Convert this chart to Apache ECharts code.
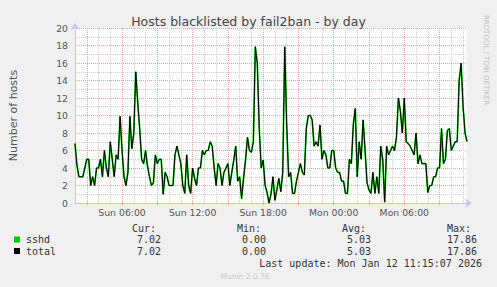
<!DOCTYPE html>
<html><head><meta charset="utf-8">
<script src="https://cdn.jsdelivr.net/npm/echarts@6/dist/echarts.min.js"></script>
<style>html,body{margin:0;padding:0;background:#f0f0f0;}#c{width:497px;height:287px;}</style>
</head><body><div id="c"></div>
<script>
const chartTitle = 'Hosts blacklisted by fail2ban - by day';
const yAxisName = 'Number of hosts';
const seriesNames = ['sshd', 'total'];
const seriesColors = ['#00cc00', '#000000'];
const dayNames = ['Sun', 'Mon'];
const startMinute = 120;      // Sun 02:00
const stepMinutes = 10;
const tickLabels = ['Sun 06:00', 'Sun 12:00', 'Sun 18:00', 'Mon 00:00', 'Mon 06:00'];
const statHeaders = ['Cur:', 'Min:', 'Avg:', 'Max:'];
const statSshd = ['7.02', '0.00', '5.03', '17.86'];
const statTotal = ['7.02', '0.00', '5.03', '17.86'];
const lastUpdate = 'Last update: Mon Jan 12 11:15:07 2026';
const footer = 'Munin 2.0.76';
const sideText = 'RRDTOOL / TOBI OETIKER';

const hosts = [
 6.8,4.3,3,3,3,4,5,5,2,3,
 2,4,4,5,3,6,4,3,7,5,
 3,5.5,5,9.9,6,3,2,3.5,9.9,6.2,
 8,15,11.5,8.5,5,4.5,6,4.2,3,2,
 2.3,5.5,4.5,5,5,1,3.5,3,2,2,
 2,5.5,6.5,5.5,4.5,2,1.1,5.5,2,1.1,
 4,2.8,2,4,4,6,5.5,6,6,7,
 6.5,4,2,4.5,4,2,3.5,4,4.5,2,
 3.5,4.9,6.5,2.5,3,0.5,2.8,4.9,7.5,6,
 5.8,7,17.86,16,8.5,4,4.9,2,1.2,0,
 1,3,0.3,1.5,2.8,1.3,3.5,17.86,9,3,
 3.5,1.1,1.1,2.5,3.5,4.5,3.5,3.2,8.5,10,
 10,9.5,6.5,7,6.5,8.9,5,6,5.5,4,
 4,6,6,4,3.5,3.5,2.5,2.5,1.1,1.1,
 5,4.5,9,10.8,3,7,5,9.5,6,2.3,
 1.5,1.1,3.5,1.1,3,1.1,6.5,5,0.1,6.5,
 5.5,6,6.5,6,7.5,12,10.5,8,12,7,
 6.8,6.5,6,5.5,8,4.5,5.5,4.5,4.5,4.5,
 1.2,2,2,3,3,4,4,8.5,4.5,5,
 8.3,8.5,6,6.5,7,7,14,16,11,8,
 7.02
];

const categories = hosts.map((_, i) => {
  const m = startMinute + i * stepMinutes;
  const d = dayNames[Math.floor(m / 1440)];
  const hh = Math.floor((m % 1440) / 60), mm = m % 60;
  return d + ' ' + String(hh).padStart(2, '0') + ':' + String(mm).padStart(2, '0');
});
const isHour = (v) => v.endsWith(':00');
const hourOf = (v) => parseInt(v.split(' ')[1], 10);
const isMajor = (i) => isHour(categories[i]) && hourOf(categories[i]) % 3 === 0;
const isMinor = (i) => isHour(categories[i]) && hourOf(categories[i]) % 3 !== 0;

const chart = echarts.init(document.getElementById('c'), null, {renderer: 'svg'});
const sans = 'DejaVu Sans';
const mono = 'DejaVu Sans Mono';
const axisBlue = '#c4c4f6';
const redGrid = '#ee9e9e';
const grayGrid = '#cdcdcd';
const dots = [1, 1];

const gfx = [];
const colX = [132, 237, 342, 447];
const valRight = [161, 266, 371, 477];
statHeaders.forEach((h, i) => gfx.push({type: 'text', x: colX[i], y: 228,
  style: {text: h, font: '10px ' + mono, fill: '#333', align: 'left', verticalAlign: 'middle'}}));
[[statSshd, 239.5], [statTotal, 251]].forEach(([vals, y], r) => {
  gfx.push({type: 'rect', shape: {x: 14, y: y - 3, width: 6, height: 6}, style: {fill: seriesColors[r]}});
  gfx.push({type: 'text', x: 26, y: y, style: {text: seriesNames[r], font: '10px ' + mono, fill: '#333', align: 'left', verticalAlign: 'middle'}});
  vals.forEach((v, i) => gfx.push({type: 'text', x: valRight[i], y: y,
    style: {text: v, font: '10px ' + mono, fill: '#333', align: 'right', verticalAlign: 'middle'}}));
});
gfx.push({type: 'text', x: 482, y: 263.5, style: {text: lastUpdate, font: '10px ' + mono, fill: '#333', align: 'right', verticalAlign: 'middle'}});
gfx.push({type: 'text', x: 245, y: 276, style: {text: footer, font: '7.5px ' + sans, fill: '#c8c8c8', align: 'center', verticalAlign: 'middle'}});
gfx.push({type: 'text', x: 486, y: 15, rotation: -Math.PI / 2, style: {text: sideText, font: '7px ' + sans, fill: '#c0c0c0', align: 'left', verticalAlign: 'middle'}});

const option = {
  backgroundColor: '#f0f0f0',
  animation: false,
  title: {text: chartTitle, left: 'center', top: 10,
    textStyle: {fontFamily: sans, fontSize: 12.5, fontWeight: 'normal', color: '#444'}},
  grid: {left: 67, top: 28, width: 400, height: 175, show: true, backgroundColor: '#ffffff', borderWidth: 0},
  xAxis: [{
    type: 'category', data: categories, boundaryGap: false,
    axisLine: {show: true, lineStyle: {color: axisBlue, width: 1}, symbol: ['none', 'arrow'], symbolSize: [7, 7], symbolOffset: [0, 5]},
    axisTick: {show: true, length: 2, inside: false, interval: (i) => isMajor(i), lineStyle: {color: redGrid}},
    axisLabel: {interval: (i, v) => tickLabels.includes(v), fontFamily: sans, fontSize: 9.3, color: '#555', margin: 5},
    splitLine: {show: true, interval: (i) => isMajor(i), lineStyle: {color: redGrid, type: dots, width: 1}},
    z: 3
  }, {
    type: 'category', data: categories, boundaryGap: false, position: 'bottom',
    axisLine: {show: false}, axisTick: {show: false, interval: (i) => isMinor(i)}, axisLabel: {show: false, interval: (i) => isMinor(i)},
    splitLine: {show: true, interval: (i) => isMinor(i), lineStyle: {color: grayGrid, type: dots, width: 1}}
  }],
  yAxis: {
    type: 'value', min: 0, max: 20, interval: 2,
    name: yAxisName, nameLocation: 'middle', nameGap: 56, nameRotate: 90,
    nameTextStyle: {fontFamily: sans, fontSize: 11, color: '#555'},
    axisLine: {show: true, lineStyle: {color: axisBlue}, symbol: ['none', 'arrow'], symbolSize: [7, 7], symbolOffset: [0, 5]},
    axisTick: {show: false},
    axisLabel: {fontFamily: sans, fontSize: 9.3, color: '#555', margin: 7},
    splitLine: {show: true, lineStyle: {color: redGrid, type: dots}},
    minorTick: {show: false, splitNumber: 2},
    minorSplitLine: {show: true, lineStyle: {color: grayGrid, type: dots}}
  },
  series: [
    {name: seriesNames[0], type: 'line', data: hosts, showSymbol: false, silent: true,
      lineStyle: {color: seriesColors[0], width: 1.7}, z: 4},
    {name: seriesNames[1], type: 'line', data: hosts, showSymbol: false, silent: true,
      lineStyle: {color: seriesColors[1], width: 1}, z: 5}
  ],
  graphic: gfx
};
chart.setOption(option);
</script></body></html>
